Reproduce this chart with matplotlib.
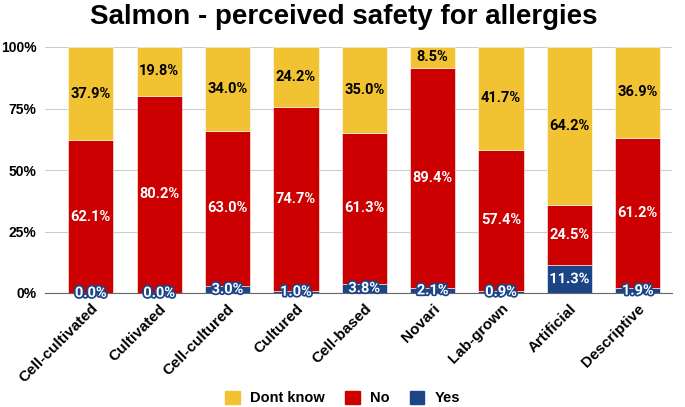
import matplotlib
matplotlib.use("Agg")
import matplotlib.pyplot as plt
import matplotlib.patheffects as pe
from matplotlib.patches import Patch
import numpy as np

plt.rcParams['font.family'] = ['Liberation Sans', 'DejaVu Sans']

categories = ["Cell-cultivated", "Cultivated", "Cell-cultured", "Cultured", "Cell-based",
              "Novari", "Lab-grown", "Artificial", "Descriptive"]
yes = [0.0, 0.0, 3.0, 1.0, 3.8, 2.1, 0.9, 11.3, 1.9]
no = [62.1, 80.2, 63.0, 74.7, 61.3, 89.4, 57.4, 24.5, 61.2]
dont_know = [37.9, 19.8, 34.0, 24.2, 35.0, 8.5, 41.7, 64.2, 36.9]
yticks = [0, 25, 50, 75, 100]
ytick_labels = ["0%", "25%", "50%", "75%", "100%"]

c_yes = "#1c4587"
c_no = "#cc0000"
c_dk = "#f1c232"

fig = plt.figure(figsize=(6.85, 4.07), dpi=100)
ax = fig.add_axes([45/685, 1-293/407, (672-45)/685, (293-47)/407])

x = np.arange(len(categories))
w = 0.66
yes_a = np.array(yes); no_a = np.array(no); dk_a = np.array(dont_know)
ax.bar(x, yes_a, w, color=c_yes, edgecolor="white", linewidth=0.4, zorder=3)
ax.bar(x, no_a, w, bottom=yes_a, color=c_no, edgecolor="white", linewidth=0.4, zorder=3)
ax.bar(x, dk_a, w, bottom=yes_a+no_a, color=c_dk, edgecolor="white", linewidth=0.4, zorder=3)

lab_font = dict(family=["Roboto", "DejaVu Sans"], fontsize=10.5, fontweight="bold")
for i in range(len(categories)):
    ax.text(x[i], yes_a[i]/2, f"{yes[i]:.1f}%", ha="center", va="center", color="white",
            zorder=5, path_effects=[pe.withStroke(linewidth=2.5, foreground=c_yes)], **lab_font)
    ax.text(x[i], yes_a[i] + no_a[i]/2, f"{no[i]:.1f}%", ha="center", va="center", color="white",
            zorder=5, **lab_font)
    ax.text(x[i], yes_a[i] + no_a[i] + dk_a[i]/2, f"{dont_know[i]:.1f}%", ha="center", va="center",
            color="black", zorder=5, **lab_font)

ax.set_xlim(-0.67, 8.5)
ax.set_ylim(0, 100)
ax.set_yticks(yticks)
ax.set_yticklabels(ytick_labels, fontsize=10, fontweight="bold")
ax.set_xticks(x)
ax.set_xticklabels(categories, rotation=45, ha="right", rotation_mode="anchor",
                   fontsize=11, fontweight="bold")
ax.tick_params(axis="y", length=0, pad=6)
ax.tick_params(axis="x", length=0, pad=6)
ax.grid(axis="y", color="#cccccc", linewidth=0.8, zorder=0)
for s in ["top", "right", "left"]:
    ax.spines[s].set_visible(False)
ax.spines["bottom"].set_color("#666666")
ax.spines["bottom"].set_zorder(4)

fig.suptitle("Salmon - perceived safety for allergies", x=0.502, y=0.99, fontsize=20, fontweight="bold")

handles = [Patch(color=c_dk, label="Dont know"), Patch(color=c_no, label="No"), Patch(color=c_yes, label="Yes")]
fig.legend(handles=handles, loc="center", bbox_to_anchor=(0.5, 1-398/407), ncol=3, frameon=False,
           prop={"weight": "bold", "size": 10.5}, handlelength=1.0, handleheight=1.0, columnspacing=1.4,
           handletextpad=0.7)

fig.savefig("out.png", dpi=100)
